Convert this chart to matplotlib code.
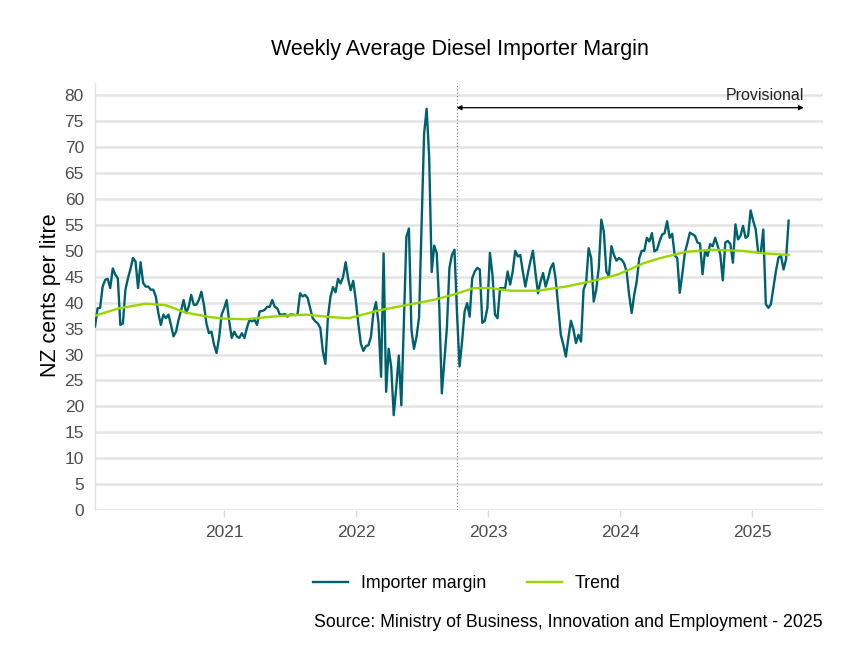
import matplotlib
matplotlib.use("Agg")

import numpy as np
import pandas as pd
import matplotlib.pyplot as plt
import matplotlib.dates as mdates

plt.rcParams['font.family'] = ['Liberation Sans', 'DejaVu Sans']

# weekly importer margin, NZ cents per litre
margin = [
    35.4, 38.9, 39.0, 43.1, 44.4, 44.6, 42.8, 46.6, 45.4, 44.7,
    35.7, 36.0, 42.5, 44.7, 46.5, 48.6, 47.9, 42.8, 47.8, 43.8,
    43.1, 43.1, 42.5, 42.5, 41.2, 38.0, 35.7, 37.7, 37.0, 37.7,
    35.7, 33.5, 34.4, 36.7, 38.5, 40.5, 38.0, 39.2, 41.5, 39.6,
    39.6, 40.5, 42.1, 39.6, 36.0, 34.1,
    34.4, 31.9, 30.3, 33.2, 37.7, 38.9, 40.5, 36.4, 33.2, 34.4,
    33.5, 33.2, 34.1, 33.2, 35.1, 36.7, 36.4, 36.7, 35.7, 38.3,
    38.4, 38.6, 39.2, 39.2, 40.5, 39.2, 38.9, 37.7, 37.7, 37.8,
    37.3, 37.7, 37.7, 37.6, 37.7, 41.8, 41.2, 41.5, 40.9, 38.9,
    37.0, 36.4, 36.0, 35.1, 30.6,
    28.2, 37.2, 41.1, 43.0, 42.0, 44.6, 43.7, 45.0, 47.8, 44.6,
    42.4, 44.2, 40.5, 36.0, 32.1, 30.7, 31.6, 31.8, 33.4, 38.2,
    40.1, 36.0, 25.7, 49.5, 22.8, 31.1, 27.6, 18.3, 23.7, 29.8,
    20.2, 36.0, 52.7, 54.3, 34.7, 31.1, 33.4, 37.2, 55.2, 72.6,
    77.4, 68.1, 45.9, 51.0, 49.5, 39.2,
    22.5, 28.7, 35.1, 46.7, 49.2, 50.2, 38.0, 27.7, 32.5,
    38.3, 39.9, 37.3, 44.7, 46.0, 46.7, 46.4, 36.1, 36.5, 39.0,
    49.6, 45.4, 37.7, 37.0, 42.8, 42.8, 42.8, 46.0, 43.5, 46.0,
    50.0, 48.9, 49.2, 46.0, 43.1, 45.7, 48.0, 50.0, 45.7, 41.8,
    44.1, 45.7, 43.1, 44.7, 46.7, 47.6, 44.4, 39.0,
    33.8, 31.9, 29.6, 33.2, 36.5, 34.8, 32.2, 33.8, 32.5, 42.5,
    43.8, 50.5, 48.6, 40.2, 42.5, 46.7, 56.0, 53.7, 46.0, 45.1,
    50.9, 49.2, 48.1, 48.6, 48.3, 47.6, 46.0, 41.5, 38.0,
    41.5, 44.1, 48.6, 50.0, 50.0, 52.5, 51.8, 53.4, 49.9, 50.2,
    51.8, 53.1, 53.4, 55.7, 52.5, 53.3, 49.1, 48.6,
    41.9, 45.5, 49.6, 51.5, 53.5, 53.2, 52.9, 51.6, 51.4, 45.5,
    50.0, 49.0, 51.3, 50.9, 52.5, 50.9, 49.3, 44.3, 51.6, 51.9,
    51.3, 47.7, 55.1, 52.2, 52.9, 54.8, 52.5, 52.9, 57.8, 55.8,
    54.1, 49.6, 49.6, 54.1, 39.7, 39.0, 39.7, 42.9, 46.1, 48.7,
    49.0, 46.4, 48.4, 55.8,
]
weeks = pd.date_range("2020-01-10", periods=len(margin), freq="7D")

# trend line knots
trend_dates = pd.to_datetime([
    "2020-01-10", "2020-03-16", "2020-05-30", "2020-07-24", "2020-09-16",
    "2020-11-24", "2021-01-06", "2021-03-03", "2021-04-27", "2021-06-22",
    "2021-08-16", "2021-10-24", "2021-12-13", "2022-03-04", "2022-05-18",
    "2022-08-01", "2022-09-20", "2022-11-22", "2023-01-08", "2023-03-04",
    "2023-05-18", "2023-08-04", "2023-10-12", "2023-12-25", "2024-03-06",
    "2024-04-22", "2024-07-01", "2024-09-09", "2024-12-02", "2025-02-03",
    "2025-04-11",
])
trend = [
    37.5, 38.9, 39.8, 39.5, 38.1,
    37.2, 36.9, 36.8, 37.2, 37.5,
    37.7, 37.2, 37.0, 38.5, 39.5,
    40.5, 41.4, 42.8, 42.8, 42.3,
    42.3, 43.1, 44.1, 45.4, 47.6,
    48.6, 49.8, 50.2, 50.0, 49.5,
    49.2,
]

provisional_start = pd.Timestamp("2022-10-06")
provisional_end = pd.Timestamp("2025-05-23")

teal = "#00616E"
lime = "#9AD500"

fig = plt.figure(figsize=(8.64, 6.72), dpi=100)
ax = fig.add_axes([0.110, 0.241, 0.8425, 0.635])

ax.plot(weeks, margin, color=teal, lw=1.7, label="Importer margin", zorder=3)
ax.plot(trend_dates, trend, color=lime, lw=1.7, label="Trend", zorder=4)

ax.axvline(provisional_start, color="#777777", lw=0.8, ls=(0, (1, 2)), zorder=2)
ax.annotate("", xy=(provisional_end, 77.6), xytext=(provisional_start, 77.6),
            arrowprops=dict(arrowstyle="<|-|>", color="black", lw=0.9,
                            mutation_scale=7, shrinkA=0, shrinkB=0), zorder=5)
ax.text(provisional_end, 78.6, "Provisional", ha="right", va="bottom",
        fontsize=11.5, color="#222222")

ax.set_ylim(0, 82.3)
ax.set_xlim(pd.Timestamp("2020-01-10"), pd.Timestamp("2025-07-15"))
ax.set_yticks(np.arange(0, 81, 5))
ax.yaxis.grid(True, color="#E4E4E4", lw=1.8)
ax.set_axisbelow(True)

ax.xaxis.set_major_locator(mdates.YearLocator())
ax.xaxis.set_major_formatter(mdates.DateFormatter("%Y"))

for s in ["top", "right", "bottom"]:
    ax.spines[s].set_visible(False)
ax.spines["left"].set_color("#E4E4E4")
ax.spines["left"].set_linewidth(1.0)

ax.tick_params(axis="y", length=0, pad=8, labelsize=12.5, labelcolor="#4D4D4D")
ax.tick_params(axis="x", length=5, color="#D9D9D9", width=1, pad=6,
               labelsize=12.5, labelcolor="#4D4D4D")

fig.text(0.058, 0.56, "NZ cents per litre", rotation=90, ha="center",
         va="center", fontsize=15.5, color="black")
fig.text(0.532, 0.927, "Weekly Average Diesel Importer Margin", ha="center",
         va="center", fontsize=15.5, color="black")

fig.legend(loc="center", bbox_to_anchor=(0.54, 0.132), ncol=2, frameon=False,
           fontsize=12.8, handlelength=2.0, columnspacing=2.3, handletextpad=0.7)

fig.text(0.9525, 0.074, "Source: Ministry of Business, Innovation and Employment - 2025",
         ha="right", va="center", fontsize=12.8, color="black")

fig.savefig("out.png", dpi=100)
